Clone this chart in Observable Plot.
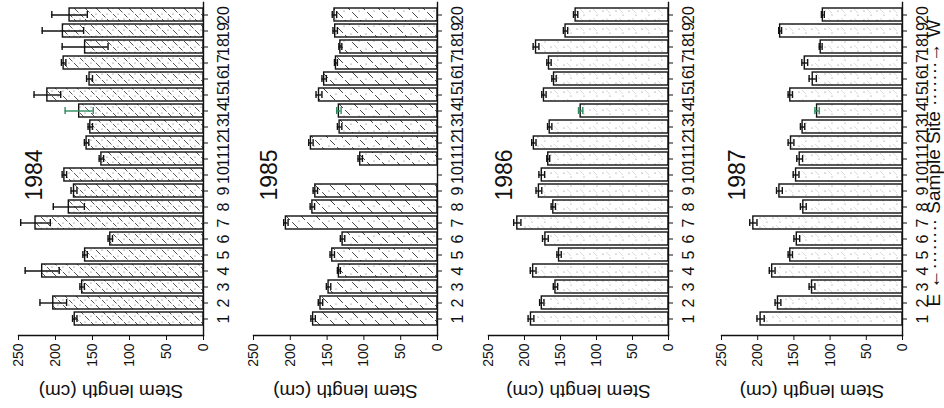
<!DOCTYPE html>
<html><head><meta charset="utf-8">
<script src="https://cdn.jsdelivr.net/npm/d3@7"></script>
<script src="https://cdn.jsdelivr.net/npm/@observablehq/plot@0.6"></script>
<style>
html,body{margin:0;padding:0;background:#fff;overflow:hidden;}
#fig{position:relative;width:944px;height:408px;overflow:hidden;background:#fff;}
#fig svg{position:absolute;top:0;max-width:none;}
</style></head><body><div id="fig"></div>
<script>
// ---- data ----
const sites = [1,2,3,4,5,6,7,8,9,10,11,12,13,14,15,16,17,18,19,20];
const years = ["1984","1985","1986","1987"];
const mean1984 = [174,203,164,218,160,126,227,182,175,188,138,158,153,168,211,154,189,160,190,181];
const err1984  = [3,18,3,23,3,3,20,21,4,3,3,3,3,19,18,4,3,31,28,24];
const mean1985 = [169,159,148,134,143,129,206,170,166,null,105,172,133,134,161,154,138,132,139,140];
const err1985  = [3,3,3,2,3,3,3,3,3,null,3,3,3,3,4,3,2,2,3,3];
const mean1986 = [191,176,157,188,152,171,210,160,180,176,167,187,165,122,173,159,166,184,143,129];
const err1986  = [4,3,3,4,3,4,5,3,4,4,2,3,3,3,3,3,3,4,3,3];
const mean1987 = [196,172,125,180,155,146,206,137,170,147,142,154,138,118,155,124,135,113,169,110];
const err1987  = [5,4,4,4,3,4,5,4,4,4,4,4,3,3,3,5,4,2,2,2];
const valueTicks = [0,50,100,150,200,250];
const valueTitle = "Stem length (cm)";
const siteTitle = "E \u2190\u00b7\u00b7\u00b7\u00b7\u00b7\u00b7\u00b7\u00b7 Sample Site \u00b7\u00b7\u00b7\u00b7\u00b7\u00b7\u00b7\u2192 W";
const highlightSite = 14;

// ---- layout ----
const FONT = '"Liberation Sans", Arial, Helvetica, sans-serif';
const panels = [
  {year: years[0], mean: mean1984, err: err1984, left: 0,   width: 235, ml: 18, mr: 32, pat: "hatch"},
  {year: years[1], mean: mean1985, err: err1985, left: 235, width: 235, ml: 18, mr: 33, pat: "hatch2"},
  {year: years[2], mean: mean1986, err: err1986, left: 470, width: 235, ml: 18, mr: 37, pat: "dots"},
  {year: years[3], mean: mean1987, err: err1987, left: 705, width: 239, ml: 16, mr: 42, pat: "dots"}
];

function patternDefs(id, kind) {
  if (kind === "hatch") return `
  <pattern id="${id}" patternUnits="userSpaceOnUse" width="11" height="11">
    <rect width="11" height="11" fill="#fff"/>
    <path d="M-2,-2L13,13M-2,9L2,13M9,-2L13,2" stroke="#444" stroke-width="0.9" stroke-dasharray="5 2"/>
    <circle cx="8" cy="3" r="0.6" fill="#666"/><circle cx="3" cy="8" r="0.6" fill="#666"/>
  </pattern>`;
  if (kind === "hatch2") return `
  <pattern id="${id}" patternUnits="userSpaceOnUse" width="15" height="15">
    <rect width="15" height="15" fill="#fff"/>
    <path d="M-2,-2L17,17M-2,13L2,17M13,-2L17,2" stroke="#444" stroke-width="1" stroke-dasharray="7 3"/>
    <circle cx="11" cy="4" r="0.6" fill="#666"/><circle cx="4" cy="11" r="0.6" fill="#666"/>
  </pattern>`;
  return `
  <pattern id="${id}" patternUnits="userSpaceOnUse" width="13" height="9">
    <rect width="13" height="9" fill="#fff"/>
    <circle cx="3" cy="2" r="0.6" fill="#777"/><circle cx="10" cy="6" r="0.6" fill="#888"/>
    <path d="M6,0L10,4" stroke="#ccc" stroke-width="0.7"/>
  </pattern>`;
}

const fig = document.getElementById("fig");
const green = "#2f8a5f";

panels.forEach((p, k) => {
  const data = sites.map((s, i) => ({site: s, mean: p.mean[i], err: p.err[i]})).filter(d => d.mean != null);
  const patId = `pat-${p.year}`;
  const errColor = d => d.site === highlightSite ? green : "#111";
  const marks = [
    Plot.barX(data, {x: "mean", y: "site", fill: `url(#${patId})`, stroke: "#111", strokeWidth: 1.4}),
    Plot.ruleY(data, {y: "site", x1: d => d.mean - d.err, x2: d => d.mean + d.err, stroke: errColor, strokeWidth: 1.4}),
    Plot.tickX(data, {x: d => d.mean - d.err, y: "site", insetTop: 3, insetBottom: 3, stroke: errColor, strokeWidth: 1.4}),
    Plot.tickX(data, {x: d => d.mean + d.err, y: "site", insetTop: 3, insetBottom: 3, stroke: errColor, strokeWidth: 1.4}),
    Plot.frame({anchor: "bottom", stroke: "#111", strokeWidth: 1.4}),
    Plot.frame({anchor: "right", stroke: "#111", strokeWidth: 1.4}),
    Plot.axisX({ticks: valueTicks, tickSize: 5, tickPadding: 3, tickRotate: -90, fontSize: 14, label: null, stroke: "#111"}),
    Plot.axisY({anchor: "right", tickSize: 4, tickFormat: () => "", label: null, stroke: "#111"}),
    Plot.text(sites, {y: d => d, text: d => String(d), frameAnchor: "right", dx: 20, rotate: -90,
      textAnchor: "middle", lineAnchor: "middle", fontSize: 16, fill: "#111", ariaLabel: "site-labels"}),
    Plot.text([p.year], {frameAnchor: "left", dx: 16, dy: 6, rotate: -90, textAnchor: "middle", lineAnchor: "middle",
      fontSize: 23, fill: "#111", ariaLabel: "year-label"}),
    Plot.text([valueTitle], {frameAnchor: "bottom", dy: 56, rotate: 180, textAnchor: "middle", lineAnchor: "middle",
      fontSize: 19, fill: "#111"})
  ];
  if (k === panels.length - 1) {
    marks.push(Plot.text([siteTitle], {frameAnchor: "right", dx: 31, dy: -6, rotate: -90,
      textAnchor: "middle", lineAnchor: "middle", fontSize: 19, fill: "#111"}));
  }
  const svg = Plot.plot({
    width: p.width, height: 408,
    marginLeft: p.ml, marginRight: p.mr, marginTop: 2, marginBottom: 73,
    insetTop: 4, insetBottom: 9,
    style: {fontFamily: FONT, background: "transparent", overflow: "visible", color: "#111"},
    x: {domain: [0, 250], reverse: true},
    y: {type: "band", domain: sites.slice().reverse(), paddingInner: 0.2, paddingOuter: 0.1},
    color: {type: "identity"},
    marks
  });
  svg.style.left = p.left + "px";
  svg.style.width = p.width + "px";
  svg.style.height = "408px";
  d3.select(svg).insert("defs", ":first-child").html(patternDefs(patId, p.pat));
  // narrow the rotated labels along their reading direction, as in the scan
  d3.select(svg).selectAll('g[aria-label="site-labels"] text').each(function() {
    this.setAttribute("transform", (this.getAttribute("transform") || "") + " scale(0.75,1)");
  });
  d3.select(svg).selectAll('g[aria-label="year-label"] text').each(function() {
    this.setAttribute("transform", (this.getAttribute("transform") || "") + " scale(0.72,1)");
  });
  fig.appendChild(svg);
});
</script>
</body></html>
